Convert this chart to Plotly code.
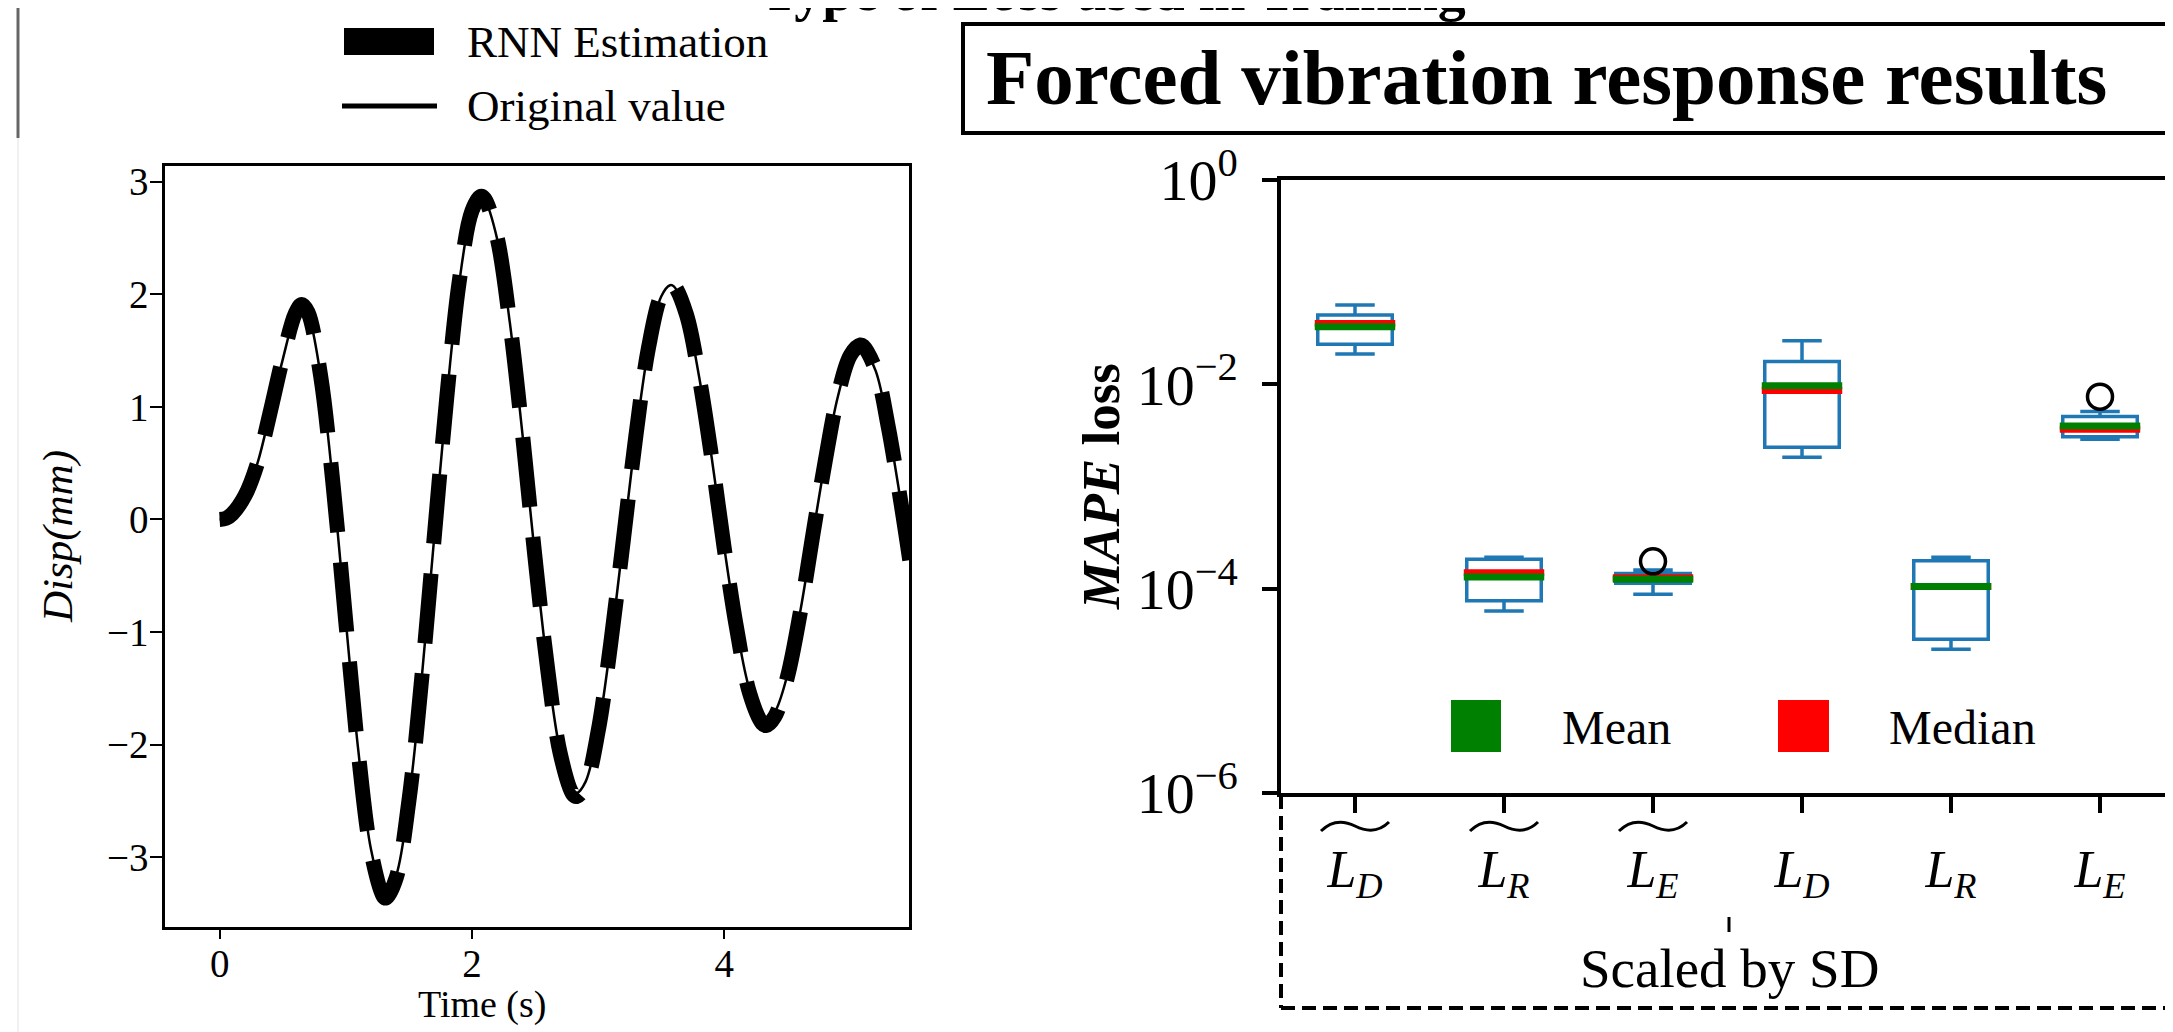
import plotly.graph_objects as go

W, H = 2173, 1032
OFF = 8  # page body margin offset of the figure inside the browser window
SERIF = "Liberation Serif"

# ---------------- Left panel: displacement time history ----------------
time_s = [0.0, 0.05, 0.1, 0.2, 0.3, 0.4, 0.5, 0.6, 0.65, 0.7, 0.8, 0.9, 1.0, 1.1, 1.2, 1.3, 1.32,
          1.4, 1.5, 1.6, 1.7, 1.8, 1.9, 2.0, 2.07, 2.1, 2.2, 2.3, 2.4, 2.5, 2.6, 2.7, 2.8, 2.83,
          2.9, 3.0, 3.1, 3.2, 3.3, 3.4, 3.5, 3.57, 3.6, 3.7, 3.8, 3.9, 4.0, 4.1, 4.2, 4.3, 4.33,
          4.4, 4.5, 4.6, 4.7, 4.8, 4.9, 5.0, 5.08, 5.1, 5.2, 5.3, 5.4, 5.47]
original_disp = [0.0, 0.01, 0.05, 0.2, 0.5, 0.95, 1.42, 1.82, 1.90, 1.83, 1.28, 0.30, -0.90, -2.06, -2.93, -3.32, -3.33,
                 -3.16, -2.49, -1.43, -0.17, 1.08, 2.11, 2.73, 2.86, 2.84, 2.49, 1.75, 0.76, -0.33, -1.32, -2.06, -2.41, -2.43,
                 -2.33, -1.87, -1.10, -0.18, 0.75, 1.52, 1.98, 2.08, 2.07, 1.81, 1.27, 0.55, -0.25, -0.97, -1.51, -1.77, -1.78,
                 -1.71, -1.38, -0.83, -0.15, 0.52, 1.09, 1.45, 1.54, 1.53, 1.32, 0.82, 0.15, -0.35]
rnn_disp = [0.0, 0.01, 0.05, 0.21, 0.5, 0.95, 1.43, 1.83, 1.91, 1.84, 1.28, 0.30, -0.91, -2.08, -2.95, -3.35, -3.36,
            -3.18, -2.50, -1.43, -0.17, 1.08, 2.12, 2.74, 2.87, 2.85, 2.50, 1.75, 0.76, -0.34, -1.33, -2.08, -2.44, -2.46,
            -2.36, -1.88, -1.10, -0.18, 0.75, 1.53, 1.99, 2.09, 2.08, 1.82, 1.27, 0.55, -0.26, -0.98, -1.54, -1.81, -1.83,
            -1.75, -1.40, -0.84, -0.15, 0.52, 1.10, 1.46, 1.55, 1.54, 1.33, 0.82, 0.15, -0.36]
left_xticks = [0, 2, 4]
left_yticks = [-3, -2, -1, 0, 1, 2, 3]

# ---------------- Right panel: MAPE loss box plots ----------------
loss_pos = [1, 2, 3, 4, 5, 6]
loss_labels = ["<i>L</i><sub><i>D</i></sub>", "<i>L</i><sub><i>R</i></sub>", "<i>L</i><sub><i>E</i></sub>",
               "<i>L</i><sub><i>D</i></sub>", "<i>L</i><sub><i>R</i></sub>", "<i>L</i><sub><i>E</i></sub>"]
scaled_by_sd = [True, True, True, False, False, False]
upper_whisker = [0.0598, 2.03e-4, 1.52e-4, 0.0267, 2.03e-4, 0.00542]
q3_vals = [0.0477, 1.94e-4, 1.41e-4, 0.01675, 1.88e-4, 0.00483]
median_vals = [0.0395, 1.43e-4, 1.28e-4, 0.00871, 1.05e-4, 0.00363]
mean_vals = [0.0366, 1.30e-4, 1.235e-4, 0.00967, 1.05e-4, 0.00391]
q1_vals = [0.0247, 7.6e-5, 1.13e-4, 0.00242, 3.19e-5, 0.00307]
lower_whisker = [0.0198, 6.05e-5, 8.8e-5, 0.00193, 2.55e-5, 0.0029]
outlier_pos = [3, 6]
outlier_vals = [1.85e-4, 7.57e-3]
right_ytick_exp = [0, -2, -4, -6]


def X(px):
    return (px - OFF) / W


def Y(py):
    return 1 - (py - OFF) / H


fig = go.Figure()

# left panel traces
fig.add_trace(go.Scatter(x=time_s, y=rnn_disp, mode="lines", line=dict(color="black", width=15, dash="70px,30px", shape="spline"),
                         xaxis="x", yaxis="y", showlegend=False, hoverinfo="skip"))
fig.add_trace(go.Scatter(x=time_s, y=original_disp, mode="lines", line=dict(color="black", width=2.5, shape="spline"),
                         xaxis="x", yaxis="y", showlegend=False, hoverinfo="skip"))

# right panel box plots
blue = "#1f77b4"
fig.add_trace(go.Box(x=loss_pos, q1=q1_vals, median=median_vals, q3=q3_vals,
                     lowerfence=lower_whisker, upperfence=upper_whisker,
                     width=0.5, whiskerwidth=0.53, boxpoints=False,
                     line=dict(color=blue, width=3.5), fillcolor="rgba(0,0,0,0)",
                     xaxis="x2", yaxis="y2", showlegend=False, hoverinfo="skip"))

half = 0.27
mx, my, ax_, ay_ = [], [], [], []
for p, med, mn in zip(loss_pos, median_vals, mean_vals):
    mx += [p - half, p + half, None]
    my += [med, med, None]
    ax_ += [p - half, p + half, None]
    ay_ += [mn, mn, None]
fig.add_trace(go.Scatter(x=mx, y=my, mode="lines", line=dict(color="red", width=7),
                         xaxis="x2", yaxis="y2", showlegend=False, hoverinfo="skip"))
fig.add_trace(go.Scatter(x=ax_, y=ay_, mode="lines", line=dict(color="green", width=7),
                         xaxis="x2", yaxis="y2", showlegend=False, hoverinfo="skip"))
fig.add_trace(go.Scatter(x=outlier_pos, y=outlier_vals, mode="markers",
                         marker=dict(symbol="circle-open", size=25, color="black", line=dict(width=3.5, color="black")),
                         xaxis="x2", yaxis="y2", showlegend=False, hoverinfo="skip", cliponaxis=False))

tick_font_left = dict(family=SERIF, size=39, color="black")

# right panel spans to just past the window edge
x2_left_px = 1280.5
x2_unit_px = 149.0
x2_right_px = W + OFF
x2_range_end = 0.5 + (x2_right_px - x2_left_px) / x2_unit_px

fig.update_layout(
    template="none",
    width=W, height=H, autosize=False,
    margin=dict(l=0, r=0, t=0, b=0, pad=0, autoexpand=False),
    paper_bgcolor="white", plot_bgcolor="white",
    showlegend=False,
    font=dict(family=SERIF, color="black"),
    xaxis=dict(domain=[X(165), X(909)], range=[-0.433, 5.464], tickvals=left_xticks,
               showline=True, linecolor="black", linewidth=2.5, mirror=True,
               ticks="outside", ticklen=10, tickwidth=2, tickcolor="black",
               showgrid=False, zeroline=False, tickfont=tick_font_left, anchor="y",
               ticklabelstandoff=-9, automargin=False),
    yaxis=dict(domain=[Y(926.7), Y(166)], range=[-3.616, 3.139], tickvals=left_yticks,
               showline=True, linecolor="black", linewidth=2.5, mirror=True,
               ticks="outside", ticklen=12, tickwidth=2, tickcolor="black",
               showgrid=False, zeroline=False, tickfont=tick_font_left, anchor="x",
               ticklabelstandoff=-6, automargin=False),
    xaxis2=dict(domain=[X(x2_left_px), 1.0], range=[0.5, x2_range_end], tickvals=loss_pos, ticktext=loss_labels,
                showline=True, linecolor="black", linewidth=4, mirror=True,
                ticks="outside", ticklen=16, tickwidth=4, tickcolor="black",
                showgrid=False, zeroline=False, anchor="y2",
                tickfont=dict(family=SERIF, size=52, color="black"), ticklabelstandoff=12, automargin=False),
    yaxis2=dict(domain=[Y(793), Y(180)], type="log", range=[-6, 0],
                tickvals=[10 ** e for e in right_ytick_exp],
                ticktext=["10<sup>%s</sup>" % (str(e).replace("-", "\u2212")) for e in right_ytick_exp],
                showline=True, linecolor="black", linewidth=4, mirror=False,
                ticks="outside", ticklen=15, tickwidth=4, tickcolor="black",
                showgrid=False, zeroline=False, anchor="x2",
                tickfont=dict(family=SERIF, size=58, color="black"), ticklabelstandoff=12, automargin=False),
)

shapes = []
annotations = []


def text(s, x, y, size, bold=False, italic=False, xanchor="center", angle=0):
    if italic:
        s = "<i>%s</i>" % s
    if bold:
        s = "<b>%s</b>" % s
    annotations.append(dict(text=s, x=X(x), y=Y(y), xref="paper", yref="paper", showarrow=False,
                            xanchor=xanchor, yanchor="middle", textangle=angle, borderpad=0,
                            font=dict(family=SERIF, size=size, color="black")))


# Decorative panel edges at far left
shapes.append(dict(type="line", xref="paper", yref="paper", x0=X(18), x1=X(18), y0=Y(0), y1=Y(138),
                   line=dict(color="#666666", width=3)))
shapes.append(dict(type="line", xref="paper", yref="paper", x0=X(18), x1=X(18), y0=Y(138), y1=Y(1040),
                   line=dict(color="#f0f0f0", width=2)))

# Cut-off super title
text("Type of Loss used in Training", 1113, -9, 56, bold=True)

# Left legend
shapes.append(dict(type="rect", xref="paper", yref="paper", x0=X(344), x1=X(434), y0=Y(55), y1=Y(28),
                   fillcolor="black", line=dict(width=0)))
shapes.append(dict(type="line", xref="paper", yref="paper", x0=X(342), x1=X(437), y0=Y(106), y1=Y(106),
                   line=dict(color="black", width=5)))
text("RNN Estimation", 466, 42, 45, xanchor="left")
text("Original value", 466, 106, 45, xanchor="left")

# Left axis titles
text("Time (s)", 482, 1004, 38)
text("Disp(mm)", 58, 537, 43, italic=True, angle=-90)

# Right title box
shapes.append(dict(type="rect", xref="paper", yref="paper", x0=X(963), x1=X(2240), y0=Y(133), y1=Y(24),
                   line=dict(color="black", width=4), fillcolor="rgba(0,0,0,0)"))
text("Forced vibration response results", 985, 77, 79, bold=True, xanchor="left")

# Right y title
annotations.append(dict(text="<b><i>MAPE</i> loss</b>", x=X(1101), y=Y(487), xref="paper", yref="paper",
                        showarrow=False, textangle=-90, xanchor="center", yanchor="middle",
                        font=dict(family=SERIF, size=53, color="black")))

# Right legend (Mean / Median)
shapes.append(dict(type="rect", xref="paper", yref="paper", x0=X(1451), x1=X(1501), y0=Y(752), y1=Y(700),
                   fillcolor="green", line=dict(width=0)))
shapes.append(dict(type="rect", xref="paper", yref="paper", x0=X(1778), x1=X(1829), y0=Y(752), y1=Y(700),
                   fillcolor="red", line=dict(width=0)))
text("Mean", 1561, 727, 48, xanchor="left")
text("Median", 1888, 727, 48, xanchor="left")

# Tildes over the scaled loss labels
for p, t in zip(loss_pos, scaled_by_sd):
    if not t:
        continue
    def P(dx, py):
        return "%f,%f" % (p + dx / x2_unit_px, Y(py))
    path = ("M " + P(-34, 831) + " C " + P(-24, 821) + " " + P(-12, 820) + " " + P(0, 826) +
            " C " + P(12, 832) + " " + P(24, 832) + " " + P(34, 822))
    shapes.append(dict(type="path", xref="x2", yref="paper", path=path, line=dict(color="black", width=3)))

# Dashed grouping box "Scaled by SD"
shapes.append(dict(type="line", xref="paper", yref="paper", x0=X(1281), x1=X(1281), y0=Y(795), y1=Y(1008),
                   line=dict(color="black", width=4, dash="14px,7px")))
shapes.append(dict(type="line", xref="paper", yref="paper", x0=X(1281), x1=X(2240), y0=Y(1008), y1=Y(1008),
                   line=dict(color="black", width=4, dash="14px,7px")))
shapes.append(dict(type="line", xref="paper", yref="paper", x0=X(1729), x1=X(1729), y0=Y(917), y1=Y(932),
                   line=dict(color="black", width=3)))
text("Scaled by SD", 1729, 968, 55)

fig.update_layout(shapes=shapes, annotations=annotations)
fig.write_html("out.html", config={"displayModeBar": False})
